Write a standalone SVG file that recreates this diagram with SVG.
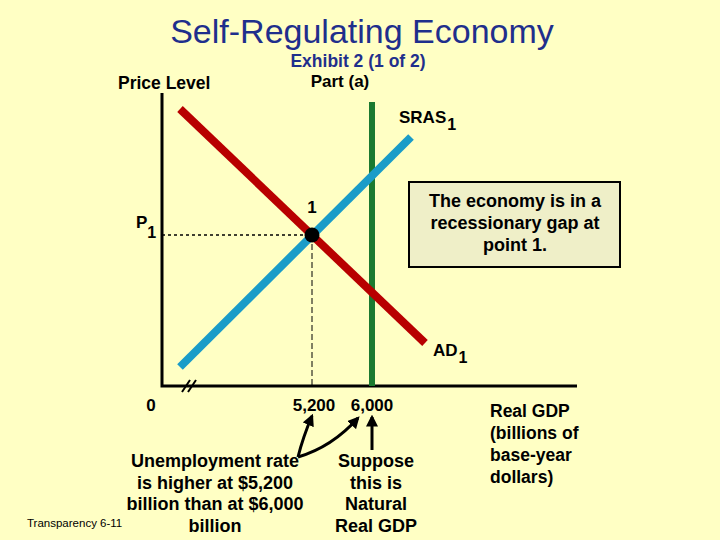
<svg xmlns="http://www.w3.org/2000/svg" width="720" height="540" viewBox="0 0 720 540">
  <defs>
    <style>
      text { font-family: "Liberation Sans", Arial, sans-serif; font-weight: bold; fill: #000; }
      .t18 { font-size: 18px; }
      .mid { text-anchor: middle; }
      .sub { font-size: 16px; }
      .axis { stroke: #000; stroke-width: 3; fill: none; }
      .arrow { stroke: #000; stroke-width: 3; fill: none; marker-end: url(#ah); }
    </style>
    <marker id="ah" viewBox="0 0 10 10" refX="8" refY="5" markerWidth="4" markerHeight="4" orient="auto" markerUnits="strokeWidth">
      <path d="M0,0 L10,5 L0,10 Z" fill="#000"/>
    </marker>
  </defs>
  <rect x="0" y="0" width="720" height="540" fill="#FFFFC4"/>

  <g id="title">
    <text x="362" y="43" class="mid" style="font-size:34px;font-weight:normal;fill:#1F2F8C">Self-Regulating Economy</text>
    <text x="358" y="67" class="mid" style="font-size:17.5px;fill:#1F2F8C">Exhibit 2 (1 of 2)</text>
    <text x="340" y="87" class="mid" style="font-size:17px">Part (a)</text>
  </g>

  <g id="axes">
    <path class="axis" d="M162,93 V386 H577"/>
    <path d="M182,392 L190,380 M188,392 L196,380" stroke="#000" stroke-width="2"/>
    <text x="118" y="89" style="font-size:17.5px">Price Level</text>
    <text x="151" y="411" class="mid" style="font-size:17px">0</text>
    <text x="314" y="411" class="mid" style="font-size:17px">5,200</text>
    <text x="372" y="411" class="mid" style="font-size:17px">6,000</text>
    <text x="490" y="417" style="font-size:17.5px">Real GDP</text>
    <text x="490" y="439" style="font-size:17.5px">(billions of</text>
    <text x="490" y="461" style="font-size:17.5px">base-year</text>
    <text x="490" y="483" style="font-size:17.5px">dollars)</text>
  </g>

  <g id="guides">
    <line x1="162" y1="235" x2="312" y2="235" stroke="#000" stroke-width="1.5" stroke-dasharray="3,3"/>
    <line x1="312" y1="235" x2="312" y2="386" stroke="#000" stroke-width="1" stroke-dasharray="6,3"/>
  </g>

  <g id="LRAS">
    <line x1="372" y1="102" x2="372" y2="386" stroke="#1B7A30" stroke-width="6"/>
  </g>

  <g id="AD1">
    <line x1="180" y1="109" x2="425" y2="343" stroke="#B80000" stroke-width="8"/>
    <text x="433" y="356" style="font-size:17px">AD<tspan class="sub" dx="1" dy="7">1</tspan></text>
  </g>

  <g id="SRAS1">
    <line x1="180" y1="367" x2="411" y2="137" stroke="#1A9CC8" stroke-width="8"/>
    <text x="399" y="123" style="font-size:17px">SRAS<tspan class="sub" dx="1" dy="7">1</tspan></text>
  </g>

  <g id="point1">
    <circle cx="312" cy="235" r="7.5" fill="#000"/>
    <text x="312" y="213" class="mid" style="font-size:17px">1</text>
    <text x="136" y="228" style="font-size:17px">P<tspan class="sub" dx="0" dy="10">1</tspan></text>
  </g>

  <g id="note">
    <rect x="409" y="182" width="211" height="85" fill="#EFEFC8" stroke="#000" stroke-width="2"/>
    <text x="515" y="207" class="mid t18">The economy is in a</text>
    <text x="515" y="229" class="mid t18">recessionary gap at</text>
    <text x="515" y="251" class="mid t18">point 1.</text>
  </g>

  <g id="unemployment">
    <text x="215" y="467" class="mid t18">Unemployment rate</text>
    <text x="215" y="489" class="mid t18">is higher at $5,200</text>
    <text x="215" y="510" class="mid t18">billion than at $6,000</text>
    <text x="215" y="532" class="mid t18">billion</text>
  </g>

  <g id="natural">
    <text x="376" y="467" class="mid t18">Suppose</text>
    <text x="376" y="489" class="mid t18">this is</text>
    <text x="376" y="510" class="mid t18">Natural</text>
    <text x="376" y="532" class="mid t18">Real GDP</text>
  </g>

  <g id="connectors">
    <path class="arrow" d="M298,457 Q303,437 312,416"/>
    <path class="arrow" d="M298,457 Q332,447 358,418"/>
    <path class="arrow" d="M372,450 V417"/>
  </g>

  <text x="27" y="527" style="font-size:11.5px;font-weight:normal">Transparency 6-11</text>
</svg>
